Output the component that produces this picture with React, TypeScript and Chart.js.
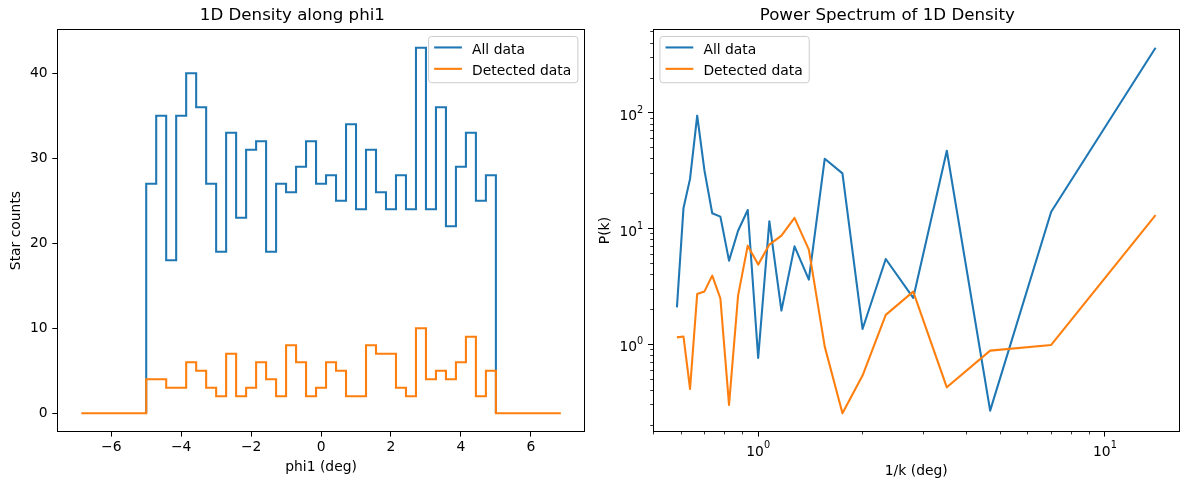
import React, { useEffect, useRef } from 'react';
import { Chart, registerables } from 'chart.js';

Chart.register(...registerables);

const FONT_FAMILY = "'DejaVu Sans', 'Liberation Sans', sans-serif";
const FS = 13.89;
const TITLE_FS = 16.67;
const BLUE = '#1f77b4';
const ORANGE = '#ff7f0e';

// ---- Left panel: 1D density histogram ----
const histTitle = '1D Density along phi1';
const histXLabel = 'phi1 (deg)';
const histYLabel = 'Star counts';
const seriesNames = ['All data', 'Detected data'];
const binRange = [-5, 5];
const padRange = [-6.857, 6.857];
const allCounts = [27, 35, 18, 35, 40, 36, 27, 19, 33, 23, 31, 32, 19, 27, 26, 29, 32, 27, 28, 25, 34, 24, 31, 26, 24, 28, 24, 43, 24, 36, 22, 29, 33, 25, 28];
const detectedCounts = [4, 4, 3, 3, 6, 5, 3, 2, 7, 2, 3, 6, 4, 2, 8, 6, 2, 3, 6, 5, 2, 2, 8, 7, 7, 3, 2, 10, 4, 5, 4, 6, 9, 2, 5];
const phiTicks = [-6, -4, -2, 0, 2, 4, 6];
const countTicks = [0, 10, 20, 30, 40];

// ---- Right panel: power spectrum ----
const specTitle = 'Power Spectrum of 1D Density';
const specXLabel = '1/k (deg)';
const specYLabel = 'P(k)';
const invK = [0.583, 0.609, 0.636, 0.667, 0.7, 0.737, 0.778, 0.824, 0.875, 0.933, 1.0, 1.077, 1.167, 1.273, 1.4, 1.556, 1.75, 2.0, 2.333, 2.8, 3.5, 4.667, 7.0, 14.0];
const powerAll = [2.09, 15.1, 26.9, 94.6, 31.7, 13.6, 12.7, 5.29, 9.6, 14.5, 0.764, 11.6, 1.96, 7.03, 3.63, 40.2, 30.0, 1.36, 5.47, 2.52, 47.1, 0.268, 14.0, 365];
const powerDetected = [1.15, 1.17, 0.413, 2.73, 2.87, 3.93, 2.5, 0.3, 2.64, 7.13, 4.89, 7.28, 8.7, 12.4, 6.59, 0.957, 0.254, 0.538, 1.8, 2.86, 0.426, 0.884, 0.99, 13.1];
const logTicksX = [1, 10];
const logTicksY = [1, 10, 100];

function expText(v: number): string {
  const e = Math.round(Math.log10(v));
  return e < 0 ? '\u2212' + String(-e) : String(e);
}
function minusLabel(v: number): string {
  return v < 0 ? '\u2212' + String(Math.abs(v)) : String(v);
}

function stepPoints(counts: number[], lo: number, hi: number, padLo: number, padHi: number) {
  const n = counts.length;
  const w = (hi - lo) / n;
  const pts: { x: number; y: number }[] = [{ x: padLo, y: 0 }];
  counts.forEach((c, i) => pts.push({ x: lo + i * w, y: c }));
  pts.push({ x: hi, y: 0 });
  pts.push({ x: padHi, y: 0 });
  return pts;
}

function linRange(lo: number, hi: number) {
  const m = (hi - lo) * 0.05;
  return [lo - m, hi + m];
}
function logRange(vals: number[]) {
  const lo = Math.log10(Math.min(...vals));
  const hi = Math.log10(Math.max(...vals));
  const m = (hi - lo) * 0.05;
  return [Math.pow(10, lo - m), Math.pow(10, hi + m)];
}

const fontTick = { family: FONT_FAMILY, size: FS, lineHeight: 1.2 };

const framePlugin = {
  id: 'mplFrame',
  afterDatasetsDraw(chart: any) {
    const { ctx, chartArea: a } = chart;
    ctx.save();
    ctx.strokeStyle = '#000';
    ctx.lineWidth = 1;
    const l = Math.floor(a.left) + 0.5;
    const r = Math.floor(a.right) + 0.5;
    const t = Math.floor(a.top) + 0.5;
    const b = Math.floor(a.bottom) + 0.5;
    ctx.strokeRect(l, t, r - l, b - t);
    ctx.restore();
  },
};

function logMinor(min: number, max: number) {
  const out: number[] = [];
  for (let d = Math.floor(Math.log10(min)); d <= Math.ceil(Math.log10(max)); d++) {
    for (let k = 2; k <= 9; k++) {
      const v = k * Math.pow(10, d);
      if (v >= min && v <= max) out.push(v);
    }
  }
  return out;
}

const minorTickPlugin = {
  id: 'mplMinor',
  afterDatasetsDraw(chart: any) {
    const { ctx, chartArea: a, scales } = chart;
    ctx.save();
    ctx.strokeStyle = '#000';
    ctx.lineWidth = 0.8;
    ctx.beginPath();
    const xs = scales.x;
    logMinor(xs.min, xs.max).forEach((v) => {
      const px = Math.floor(xs.getPixelForValue(v)) + 0.5;
      ctx.moveTo(px, a.bottom);
      ctx.lineTo(px, a.bottom + 2.8);
    });
    const ys = scales.y;
    logMinor(ys.min, ys.max).forEach((v) => {
      const py = Math.floor(ys.getPixelForValue(v)) + 0.5;
      ctx.moveTo(a.left, py);
      ctx.lineTo(a.left - 2.8, py);
    });
    ctx.stroke();
    ctx.restore();
  },
};

// power-of-ten tick labels with a real superscript exponent (like matplotlib mathtext)
const powLabelPlugin = {
  id: 'mplPowLabels',
  afterDraw(chart: any) {
    const { ctx, chartArea: a, scales } = chart;
    const baseFont = `${FS}px ${FONT_FAMILY}`;
    const supFont = `${FS * 0.7}px ${FONT_FAMILY}`;
    const supShift = 7.06;
    ctx.save();
    ctx.fillStyle = '#000';
    ctx.textBaseline = 'alphabetic';
    ctx.textAlign = 'left';
    const measure = (v: number) => {
      ctx.font = baseFont;
      const w1 = ctx.measureText('10').width;
      ctx.font = supFont;
      const w2 = ctx.measureText(expText(v)).width;
      return [w1, w2];
    };
    const draw = (v: number, x0: number, yb: number, w1: number) => {
      ctx.font = baseFont;
      ctx.fillText('10', x0, yb);
      ctx.font = supFont;
      ctx.fillText(expText(v), x0 + w1, yb - supShift);
    };
    const xs = scales.x;
    logTicksX.forEach((v) => {
      const [w1, w2] = measure(v);
      const px = xs.getPixelForValue(v);
      draw(v, px - (w1 + w2) / 2, a.bottom + 23.9, w1);
    });
    const ys = scales.y;
    logTicksY.forEach((v) => {
      const [w1, w2] = measure(v);
      const py = ys.getPixelForValue(v);
      draw(v, a.left - 9.7 - (w1 + w2), py + 7.0, w1);
    });
    ctx.restore();
  },
};

const legendPlugin = {
  id: 'mplLegend',
  afterDraw(chart: any, _args: any, opts: any) {
    const { ctx, chartArea: a } = chart;
    const datasets = chart.data.datasets;
    ctx.save();
    ctx.font = `${FS}px ${FONT_FAMILY}`;
    const textW = Math.max(...datasets.map((d: any) => ctx.measureText(d.label).width));
    const pad = 0.4 * FS;
    const hl = 2 * FS;
    const htp = 0.8 * FS;
    const bap = 0.5 * FS;
    const w = pad + hl + htp + textW + pad;
    const h = 46.3;
    const left = opts.corner === 'right' ? a.right - bap - w : a.left + bap;
    const top = a.top + bap;
    ctx.beginPath();
    ctx.roundRect(left, top, w, h, 3);
    ctx.fillStyle = 'rgba(255,255,255,0.8)';
    ctx.fill();
    ctx.strokeStyle = '#cccccc';
    ctx.lineWidth = 1;
    ctx.stroke();
    datasets.forEach((d: any, i: number) => {
      const y = top + 11 + i * 21.4;
      ctx.beginPath();
      ctx.strokeStyle = d.borderColor;
      ctx.lineWidth = 2.08;
      ctx.moveTo(left + pad, y);
      ctx.lineTo(left + pad + hl, y);
      ctx.stroke();
      ctx.fillStyle = '#000';
      ctx.textBaseline = 'alphabetic';
      ctx.textAlign = 'left';
      ctx.fillText(d.label, left + pad + hl + htp - 1, y + 6.3);
    });
    ctx.restore();
  },
};

const gridOpts = { drawOnChartArea: false, tickLength: 5, tickWidth: 1, tickColor: '#000', lineWidth: 1 };

function titleOpts(text: string) {
  return {
    display: true,
    text,
    color: '#000',
    font: { family: FONT_FAMILY, size: TITLE_FS, weight: 'normal', lineHeight: 1.2 },
    padding: { top: 5.4, bottom: 4.1 },
  };
}

function leftConfig(): any {
  const [xMin, xMax] = linRange(padRange[0], padRange[1]);
  const [yMin, yMax] = linRange(0, Math.max(...allCounts, ...detectedCounts));
  return {
    type: 'line',
    data: {
      datasets: [
        {
          label: seriesNames[0],
          data: stepPoints(allCounts, binRange[0], binRange[1], binRange[0], binRange[1]),
          borderColor: BLUE,
          backgroundColor: BLUE,
          borderWidth: 2.08,
          stepped: true,
          pointRadius: 0,
          fill: false,
          borderJoinStyle: 'miter',
          borderCapStyle: 'butt',
          order: 1,
        },
        {
          label: seriesNames[1],
          data: stepPoints(detectedCounts, binRange[0], binRange[1], padRange[0], padRange[1]),
          borderColor: ORANGE,
          backgroundColor: ORANGE,
          borderWidth: 2.08,
          stepped: true,
          pointRadius: 0,
          fill: false,
          borderJoinStyle: 'miter',
          borderCapStyle: 'butt',
          order: 0,
        },
      ],
    },
    options: {
      responsive: false,
      animation: false,
      devicePixelRatio: 1,
      events: [],
      layout: { padding: { left: 0, right: 10.2, top: 0, bottom: 0 } },
      plugins: {
        legend: { display: false },
        tooltip: { enabled: false },
        title: titleOpts(histTitle),
        mplLegend: { corner: 'right' },
      },
      scales: {
        x: {
          type: 'linear',
          min: xMin,
          max: xMax,
          afterBuildTicks: (s: any) => { s.ticks = phiTicks.map((v) => ({ value: v })); },
          afterFit: (s: any) => { s.height = 57.4; },
          ticks: { callback: (v: any) => minusLabel(Number(v)), font: fontTick, color: '#000', padding: 2.5, autoSkip: false, maxRotation: 0 },
          grid: gridOpts,
          border: { display: false },
          title: { display: true, text: histXLabel, color: '#000', font: fontTick, padding: { top: 0, bottom: 13.7 } },
        },
        y: {
          type: 'linear',
          min: yMin,
          max: yMax,
          afterBuildTicks: (s: any) => { s.ticks = countTicks.map((v) => ({ value: v })); },
          afterFit: (s: any) => { s.width = 57.3; },
          ticks: { callback: (v: any) => minusLabel(Number(v)), font: fontTick, color: '#000', padding: 4.7, autoSkip: false },
          grid: gridOpts,
          border: { display: false },
          title: { display: true, text: histYLabel, color: '#000', font: fontTick, padding: { top: 7.9, bottom: 0 } },
        },
      },
    },
    plugins: [framePlugin, legendPlugin],
  };
}

function rightConfig(): any {
  const [xMin, xMax] = logRange(invK);
  const [yMin, yMax] = logRange([...powerAll, ...powerDetected]);
  return {
    type: 'line',
    data: {
      datasets: [
        {
          label: seriesNames[0],
          data: invK.map((x, i) => ({ x, y: powerAll[i] })),
          borderColor: BLUE,
          backgroundColor: BLUE,
          borderWidth: 2.08,
          pointRadius: 0,
          fill: false,
          tension: 0,
          borderJoinStyle: 'round',
          order: 1,
        },
        {
          label: seriesNames[1],
          data: invK.map((x, i) => ({ x, y: powerDetected[i] })),
          borderColor: ORANGE,
          backgroundColor: ORANGE,
          borderWidth: 2.08,
          pointRadius: 0,
          fill: false,
          tension: 0,
          borderJoinStyle: 'round',
          order: 0,
        },
      ],
    },
    options: {
      responsive: false,
      animation: false,
      devicePixelRatio: 1,
      events: [],
      layout: { padding: { left: 0, right: 9.5, top: 0, bottom: 0 } },
      plugins: {
        legend: { display: false },
        tooltip: { enabled: false },
        title: titleOpts(specTitle),
        mplLegend: { corner: 'left' },
      },
      scales: {
        x: {
          type: 'logarithmic',
          min: xMin,
          max: xMax,
          afterBuildTicks: (s: any) => { s.ticks = logTicksX.map((v) => ({ value: v })); },
          afterFit: (s: any) => { s.height = 57.4; },
          ticks: { callback: () => '', font: fontTick, color: '#000', padding: 5.5, autoSkip: false, maxRotation: 0 },
          grid: gridOpts,
          border: { display: false },
          title: { display: true, text: specXLabel, color: '#000', font: fontTick, padding: { top: 0, bottom: 9.2 } },
        },
        y: {
          type: 'logarithmic',
          min: yMin,
          max: yMax,
          afterBuildTicks: (s: any) => { s.ticks = logTicksY.map((v) => ({ value: v })); },
          afterFit: (s: any) => { s.width = 58; },
          ticks: { callback: () => '', font: fontTick, color: '#000', padding: 4.7, autoSkip: false },
          grid: gridOpts,
          border: { display: false },
          title: { display: true, text: specYLabel, color: '#000', font: fontTick, padding: { top: 2.4, bottom: 0 } },
        },
      },
    },
    plugins: [framePlugin, minorTickPlugin, powLabelPlugin, legendPlugin],
  };
}

export default function App() {
  const leftRef = useRef<HTMLCanvasElement>(null);
  const rightRef = useRef<HTMLCanvasElement>(null);
  useEffect(() => {
    const c1 = new Chart(leftRef.current as HTMLCanvasElement, leftConfig());
    const c2 = new Chart(rightRef.current as HTMLCanvasElement, rightConfig());
    return () => {
      c1.destroy();
      c2.destroy();
    };
  }, []);
  return (
    <div style={{ position: 'absolute', left: 0, top: 0, width: 1189, height: 489, background: '#fff' }}>
      <canvas ref={leftRef} width={595} height={489} style={{ position: 'absolute', left: 0, top: 0 }} />
      <canvas ref={rightRef} width={594} height={489} style={{ position: 'absolute', left: 595, top: 0 }} />
    </div>
  );
}
